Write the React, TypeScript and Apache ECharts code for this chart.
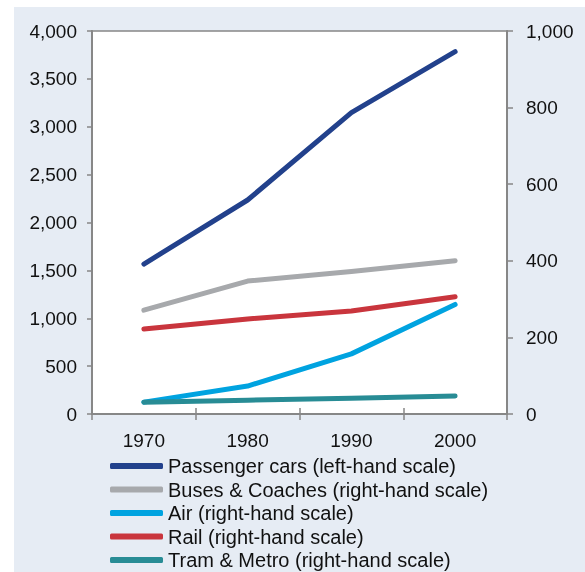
import React, { useEffect, useRef } from "react";
import * as echarts from "echarts";

// Years on the category axis
const years = ["1970", "1980", "1990", "2000"];

// Passenger cars, read on the left-hand scale
const passengerCars = [1566, 2235, 3147, 3784];
// Other modes, read on the right-hand scale
const busesCoaches = [271, 347, 372, 400];
const air = [31, 73, 157, 286];
const rail = [222, 248, 269, 306];
const tramMetro = [31, 36, 41, 47];

const seriesNames = [
  "Passenger cars (left-hand scale)",
  "Buses & Coaches (right-hand scale)",
  "Air (right-hand scale)",
  "Rail (right-hand scale)",
  "Tram & Metro (right-hand scale)",
];
const seriesColors = ["#22418c", "#a7a9ac", "#00a3e0", "#c9353d", "#288c95"];

const AXIS_GREY = "#878787";
const FONT = "Liberation Sans, Arial, sans-serif";

export default function App() {
  const ref = useRef<HTMLDivElement>(null);

  useEffect(() => {
    if (!ref.current) return;
    const chart = echarts.init(ref.current, null, { renderer: "svg" });

    const fmt = (v: number) => v.toLocaleString("en-US");
    const lineSeries = (name: string, data: number[], color: string, yAxisIndex: number) => ({
      name,
      type: "line",
      data,
      yAxisIndex,
      xAxisIndex: 0,
      symbol: "none",
      color,
      lineStyle: { color, width: 5, cap: "round", join: "round" },
      z: 5,
    });

    chart.setOption({
      animation: false,
      graphic: [
        {
          type: "rect",
          shape: { x: 14, y: 7, width: 571, height: 565 },
          style: { fill: "#e6ecf4" },
          z: -10,
          silent: true,
        },
      ],
      grid: {
        left: 92,
        top: 31,
        right: 78,
        bottom: 158,
        show: true,
        backgroundColor: "#ffffff",
        borderColor: AXIS_GREY,
        borderWidth: 1.5,
      },
      legend: {
        orient: "vertical",
        left: 110,
        top: 456,
        height: 116,
        icon: "roundRect",
        itemWidth: 53,
        itemHeight: 6,
        itemGap: 3.5,
        padding: 0,
        data: seriesNames,
        textStyle: { fontFamily: FONT, fontSize: 20, color: "#111111" },
      },
      xAxis: [
        {
          type: "category",
          data: years,
          boundaryGap: true,
          position: "bottom",
          axisLine: { lineStyle: { color: AXIS_GREY, width: 2 } },
          axisTick: { show: true, length: 6, lineStyle: { color: AXIS_GREY, width: 1.5 } },
          axisLabel: { fontFamily: FONT, fontSize: 19, color: "#111111", margin: 17 },
          splitLine: { show: false },
        },
        {
          // inner half of the crossing category ticks
          type: "category",
          data: years,
          boundaryGap: true,
          position: "bottom",
          axisLine: { show: false },
          axisTick: { show: true, inside: true, length: 6, lineStyle: { color: AXIS_GREY, width: 1.5 } },
          axisLabel: { show: false },
          splitLine: { show: false },
        },
      ],
      yAxis: [
        {
          type: "value",
          min: 0,
          max: 4000,
          interval: 500,
          position: "left",
          axisLine: { show: true, lineStyle: { color: AXIS_GREY, width: 2 } },
          axisTick: { show: true, length: 5, lineStyle: { color: AXIS_GREY, width: 1.5 } },
          axisLabel: { fontFamily: FONT, fontSize: 19, color: "#111111", margin: 15, formatter: fmt },
          splitLine: { show: false },
        },
        {
          type: "value",
          min: 0,
          max: 1000,
          interval: 200,
          position: "right",
          axisLine: { show: true, lineStyle: { color: AXIS_GREY, width: 2 } },
          axisTick: { show: true, length: 6, lineStyle: { color: AXIS_GREY, width: 1.5 } },
          axisLabel: { fontFamily: FONT, fontSize: 19, color: "#111111", margin: 19, formatter: fmt },
          splitLine: { show: false },
        },
      ],
      series: [
        lineSeries(seriesNames[0], passengerCars, seriesColors[0], 0),
        lineSeries(seriesNames[1], busesCoaches, seriesColors[1], 1),
        lineSeries(seriesNames[2], air, seriesColors[2], 1),
        lineSeries(seriesNames[3], rail, seriesColors[3], 1),
        lineSeries(seriesNames[4], tramMetro, seriesColors[4], 1),
      ],
    });

    return () => chart.dispose();
  }, []);

  return (
    <div
      ref={ref}
      style={{ position: "fixed", left: 0, top: 0, width: 585, height: 572 }}
    />
  );
}
